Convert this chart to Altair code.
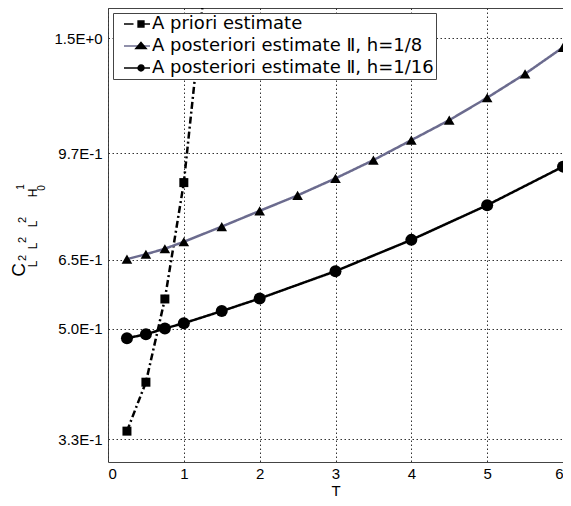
import altair as alt
import pandas as pd

# ---- data ----
T_prior = [0.25, 0.5, 0.75, 1.0, 1.25]
v_prior = [0.340, 0.409, 0.560, 0.869, 1.71]
T_h8 = [0.25, 0.5, 0.75, 1.0, 1.5, 2.0, 2.5, 3.0, 3.5, 4.0, 4.5, 5.0, 5.5, 6.0]
v_h8 = [0.651, 0.663, 0.677, 0.695, 0.736, 0.781, 0.828, 0.883, 0.946, 1.020, 1.100, 1.197, 1.310, 1.448]
T_h16 = [0.25, 0.5, 0.75, 1.0, 1.5, 2.0, 3.0, 4.0, 5.0, 6.0]
v_h16 = [0.483, 0.490, 0.501, 0.511, 0.535, 0.561, 0.622, 0.700, 0.798, 0.923]

series_names = ["A priori estimate",
                "A posteriori estimate \u2161, h=1/8",
                "A posteriori estimate \u2161, h=1/16"]
x_ticks = [0, 1, 2, 3, 4, 5, 6]
y_ticks = [0.33, 0.5, 0.65, 0.97, 1.5]
x_domain = [0, 6]
y_domain = [0.3026, 1.68]
x_title = "T"

df = pd.concat([
    pd.DataFrame({"T": T_prior, "value": v_prior, "series": series_names[0]}),
    pd.DataFrame({"T": T_h8, "value": v_h8, "series": series_names[1]}),
    pd.DataFrame({"T": T_h16, "value": v_h16, "series": series_names[2]}),
], ignore_index=True)

# ---- styles ----
FONT = "Liberation Sans"
LEGEND_FONT = "DejaVu Sans"
line_colors = ["black", "#6b6b8e", "black"]
dashes = [[7, 3, 2, 3], [1, 0], [1, 0]]
plot_shapes = ["square", "triangle-up", "circle"]
plot_sizes = [81, 144, 100]
legend_line_paths = [
    "M0,0L1.9,0M3.3,0L5.2,0",
    "M0,0L5.2,0",
    "M0,0L5.2,0",
]
legend_marker_paths = [
    "M2.82,-0.58L3.98,-0.58L3.98,0.58L2.82,0.58Z",
    "M3.4,-0.72L4.42,0.5L2.38,0.5Z",
    "M3.98,0A0.58,0.58,0,1,1,2.82,0A0.58,0.58,0,1,1,3.98,0Z",
]

x_enc = alt.X("T:Q", scale=alt.Scale(domain=x_domain, nice=False, zero=False),
              axis=alt.Axis(values=x_ticks, format="d", title=x_title,
                            labelPadding=4, titlePadding=2, titleFontSize=15,
                            titleFontWeight="normal", titleFont=FONT, titleColor="black"))
y_enc = alt.Y("value:Q", scale=alt.Scale(type="log", domain=y_domain, nice=False, zero=False),
              axis=alt.Axis(values=y_ticks, labelExpr="upper(format(datum.value, '.1e'))",
                            title=None, labelPadding=6))

base = alt.Chart(df).encode(x=x_enc, y=y_enc)

lines = base.mark_line(clip=True, strokeWidth=2.5).encode(
    color=alt.Color("series:N", scale=alt.Scale(domain=series_names, range=line_colors), legend=None),
    strokeDash=alt.StrokeDash("series:N", scale=alt.Scale(domain=series_names, range=dashes), legend=None),
)

points = base.mark_point(filled=True, clip=True, opacity=1, color="black").encode(
    shape=alt.Shape("series:N", scale=alt.Scale(domain=series_names, range=plot_shapes), legend=None),
    size=alt.Size("series:N", scale=alt.Scale(domain=series_names, range=plot_sizes), legend=None),
)

common_legend = dict(orient="none", legendX=5, legendY=5, title=None, padding=2,
                     labelFont=LEGEND_FONT, labelFontSize=18, labelColor="black",
                     labelOffset=19, rowPadding=4, direction="vertical",
                     labelLimit=500, symbolLimit=10)

leg_lines = alt.Legend(fillColor="white", strokeColor="#444", zindex=1, **common_legend)
legend_lines = base.mark_point(opacity=0, clip=True, filled=False, size=100, strokeWidth=2.5).encode(
    shape=alt.Shape("series:N", scale=alt.Scale(domain=series_names, range=legend_line_paths), legend=leg_lines),
    stroke=alt.Stroke("series:N", scale=alt.Scale(domain=series_names, range=line_colors), legend=leg_lines),
)

leg_marks = alt.Legend(fillColor="transparent", strokeColor="transparent", labelOpacity=0,
                       zindex=2, **common_legend)
legend_markers = base.mark_point(opacity=0, clip=True, filled=True, size=100, strokeWidth=2.5,
                                 color="black", stroke="black").encode(
    shape=alt.Shape("series:N", scale=alt.Scale(domain=series_names, range=legend_marker_paths), legend=leg_marks),
)

# ---- y-axis title C_{L^2 L^2 H^1_0}, built from pieces ----
title_pieces = [
    ("C", 19, -83, 262),
    ("2", 11, -82, 250), ("L", 12, -71.5, 256),
    ("2", 11, -82, 232), ("L", 12, -71.5, 238),
    ("2", 11, -82, 212), ("L", 12, -71.5, 216),
    ("1", 10, -84.5, 179), ("H", 12, -71, 185), ("0", 10, -63.5, 180),
]
title_layers = []
for txt, fs, px, py in title_pieces:
    title_layers.append(
        alt.Chart(pd.DataFrame({"t": [txt]})).mark_text(
            angle=270, align="center", baseline="alphabetic", font=FONT, fontSize=fs, color="black"
        ).encode(x=alt.value(px), y=alt.value(py), text="t:N")
    )

chart = alt.layer(lines, points, legend_lines, legend_markers, *title_layers).resolve_scale(
    shape="independent", color="independent", stroke="independent",
    size="independent", strokeDash="independent"
).resolve_legend(shape="independent", stroke="independent").properties(
    width=455, height=454,
    autosize=alt.AutoSizeParams(type="none"),
    padding={"left": 100, "top": 0, "right": 0, "bottom": 36},
).configure_view(stroke="#444", strokeWidth=1).configure_axis(
    labelFont=FONT, labelFontSize=15, labelColor="black",
    grid=True, gridColor="#333", gridDash=[1.5, 2.5], gridWidth=1, gridOpacity=1,
    domain=False, ticks=False,
)

chart.save("out.html", embed_options={"renderer": "svg", "actions": False})
